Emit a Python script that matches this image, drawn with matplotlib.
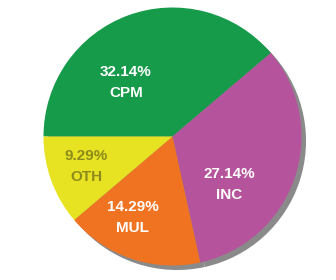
import matplotlib
matplotlib.use("Agg")
import matplotlib.pyplot as plt

categories = ["CPM", "INC", "MUL", "OTH"]
percents = [32.14, 27.14, 14.29, 9.29]

colors = ["#169B4A", "#B5539C", "#F07322", "#E8E322"]
text_colors = ["white", "white", "white", "#8C8A1C"]
label_pos = [(-0.36, 0.42), (0.44, -0.37), (-0.31, -0.63), (-0.67, -0.23)]

fig = plt.figure(figsize=(3.36, 2.8), dpi=100)
R = 129.0
cx, cy = 172.5, 280 - 136.5
ax = fig.add_axes([(cx - R) / 336, (cy - R) / 280, 2 * R / 336, 2 * R / 280])
ax.set_xlim(-1, 1)
ax.set_ylim(-1, 1)
ax.axis("off")

# shadow
sh, _ = ax.pie(percents, colors=["#8A8A8A"] * len(percents), startangle=180,
               counterclock=False, center=(0.035, -0.035),
               wedgeprops=dict(linewidth=0))
for w in sh:
    w.set_clip_on(False)
    w.set_zorder(0)

labels = [f"{p:.2f}%\n{c}" for p, c in zip(percents, categories)]
wedges, texts = ax.pie(percents, colors=colors, startangle=180, counterclock=False,
                       labels=labels, labeldistance=0.6,
                       wedgeprops=dict(linewidth=0))
for w in wedges:
    w.set_zorder(1)
    w.set_clip_on(False)
for t, pos, tc in zip(texts, label_pos, text_colors):
    t.set_position(pos)
    t.set_ha("center")
    t.set_va("center")
    t.set_color(tc)
    t.set_fontsize(11)
    t.set_fontweight("bold")
    t.set_family("Liberation Sans")
    t.set_linespacing(1.65)
    t.set_zorder(3)

ax.set_xlim(-1, 1)
ax.set_ylim(-1, 1)
ax.set_aspect("auto")
fig.savefig("out.png", dpi=100)
